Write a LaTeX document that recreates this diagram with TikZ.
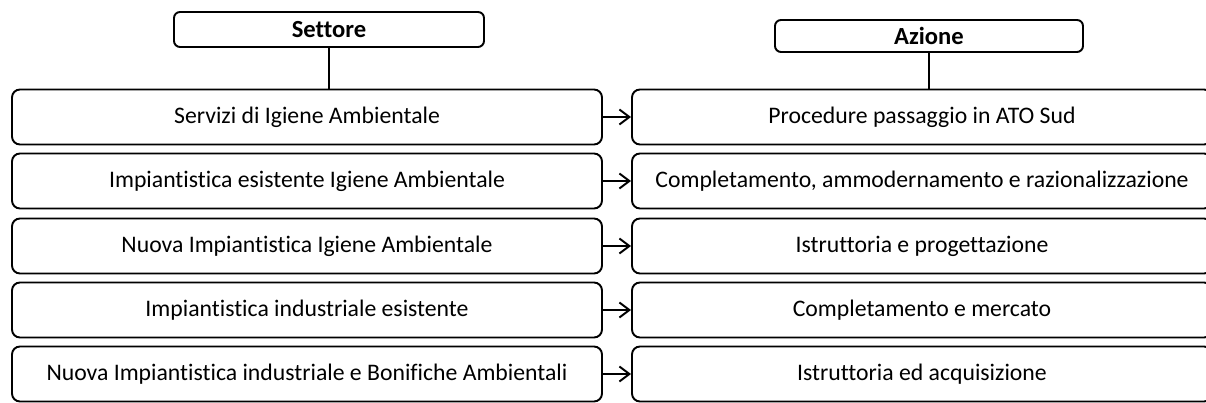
\documentclass[tikz,border=0pt]{standalone}
\usepackage{fontspec}
\setmainfont{Carlito}[Ligatures=NoCommon]
\usetikzlibrary{arrows.meta,positioning}

\begin{document}
\begin{tikzpicture}[
  box/.style={draw,line width=1.1pt,rounded corners=0.16cm,minimum height=1.1cm,font=\fontsize{13.5}{15}\selectfont},
  settorebox/.style={box,minimum width=11.8cm},
  azionebox/.style={box,minimum width=11.6cm},
  titolo/.style={draw,line width=1.1pt,rounded corners=0.12cm,inner sep=0pt,font=\bfseries\fontsize{14}{16}\selectfont},
  freccia/.style={line width=1.1pt,-{Straight Barb[length=0.2cm,width=0.3cm]}}]
  % cornice della pagina
  \useasboundingbox (0,0) rectangle (24.12,8.06);
  % intestazioni
  \node[titolo,minimum width=6.2cm,minimum height=0.7cm] (settore) at (6.58,7.47) {Settore};
  \node[titolo,minimum width=6.16cm,minimum height=0.64cm] (azione) at (18.58,7.34) {Azione};
  % righe: settore a sinistra, azione a destra
  \foreach \i/\y/\s/\a in {
    1/5.72/{Servizi di Igiene Ambientale}/{Procedure passaggio in ATO Sud},
    2/4.44/{Impiantistica esistente Igiene Ambientale}/{Completamento, ammodernamento e razionalizzazione},
    3/3.14/{Nuova Impiantistica Igiene Ambientale}/{Istruttoria e progettazione},
    4/1.86/{Impiantistica industriale esistente}/{Completamento e mercato},
    5/0.58/{Nuova Impiantistica industriale e Bonifiche Ambientali}/{Istruttoria ed acquisizione}}{
    \node[settorebox] (s\i) at (6.14,\y) {\s};
    \node[azionebox] (a\i) at (18.44,\y) {\a};
    \draw[freccia] (s\i) -- (a\i);
  }
  % linee verticali dalle intestazioni
  \draw[line width=1.1pt] (settore.south) -- (settore.south |- s1.north);
  \draw[line width=1.1pt] (azione.south) -- (azione.south |- a1.north);
\end{tikzpicture}
\end{document}
